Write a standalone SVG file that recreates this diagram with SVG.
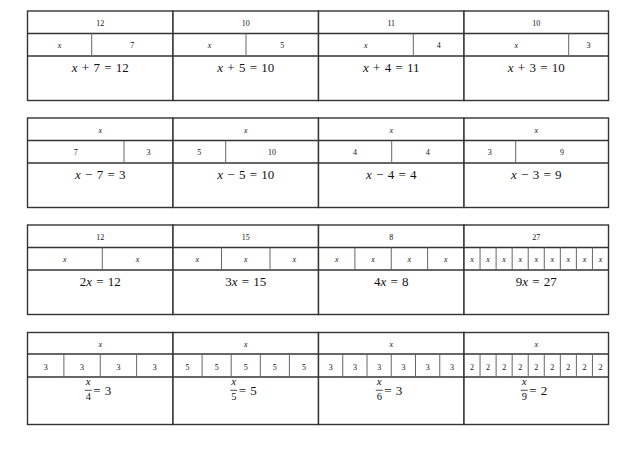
<svg xmlns="http://www.w3.org/2000/svg" width="637" height="450" viewBox="0 0 637 450">
<style>
.box{fill:#fff;stroke:#333;stroke-width:1.4}
.h{stroke:#333;stroke-width:1.4}
.d{stroke:#666;stroke-width:1}
.bar{stroke:#222;stroke-width:0.8}
text{font-family:"Liberation Serif","DejaVu Serif",serif;fill:#111;text-anchor:middle}
.s{font-size:8px}
.eq{font-size:13px;word-spacing:1px}
.v{font-style:italic}
.fr{font-size:11px}
.dn{font-size:10.5px}
.st{text-anchor:start}
</style>
<rect width="637" height="450" fill="#fff"/>

<!-- Table 1 -->
<g id="t1c1">
<rect class="box" x="27.5" y="11" width="145.5" height="89.5"/>
<line class="h" x1="27.5" y1="33.5" x2="173" y2="33.5"/><line class="h" x1="27.5" y1="56" x2="173" y2="56"/>
<line class="d" x1="91.7" y1="33.5" x2="91.7" y2="56"/>
<text class="s" x="100.25" y="25.7">12</text>
<text class="s v" x="59.6" y="47.7">x</text><text class="s" x="132.35" y="47.7">7</text>
<text class="eq" x="100.25" y="72"><tspan class="v">x</tspan> + 7 = 12</text>
</g>
<g id="t1c2">
<rect class="box" x="173" y="11" width="145.5" height="89.5"/>
<line class="h" x1="173" y1="33.5" x2="318.5" y2="33.5"/><line class="h" x1="173" y1="56" x2="318.5" y2="56"/>
<line class="d" x1="246" y1="33.5" x2="246" y2="56"/>
<text class="s" x="245.75" y="25.7">10</text>
<text class="s v" x="209.5" y="47.7">x</text><text class="s" x="282.25" y="47.7">5</text>
<text class="eq" x="245.75" y="72"><tspan class="v">x</tspan> + 5 = 10</text>
</g>
<g id="t1c3">
<rect class="box" x="318.5" y="11" width="145.5" height="89.5"/>
<line class="h" x1="318.5" y1="33.5" x2="464" y2="33.5"/><line class="h" x1="318.5" y1="56" x2="464" y2="56"/>
<line class="d" x1="413.3" y1="33.5" x2="413.3" y2="56"/>
<text class="s" x="391.25" y="25.7">11</text>
<text class="s v" x="365.9" y="47.7">x</text><text class="s" x="438.65" y="47.7">4</text>
<text class="eq" x="391.25" y="72"><tspan class="v">x</tspan> + 4 = 11</text>
</g>
<g id="t1c4">
<rect class="box" x="464" y="11" width="144.5" height="89.5"/>
<line class="h" x1="464" y1="33.5" x2="608.5" y2="33.5"/><line class="h" x1="464" y1="56" x2="608.5" y2="56"/>
<line class="d" x1="568.7" y1="33.5" x2="568.7" y2="56"/>
<text class="s" x="536.25" y="25.7">10</text>
<text class="s v" x="516.35" y="47.7">x</text><text class="s" x="588.6" y="47.7">3</text>
<text class="eq" x="536.25" y="72"><tspan class="v">x</tspan> + 3 = 10</text>
</g>

<!-- Table 2 -->
<g id="t2c1">
<rect class="box" x="27.5" y="118" width="145.5" height="89.5"/>
<line class="h" x1="27.5" y1="140.5" x2="173" y2="140.5"/><line class="h" x1="27.5" y1="163" x2="173" y2="163"/>
<line class="d" x1="124" y1="140.5" x2="124" y2="163"/>
<text class="s v" x="100.25" y="132.7">x</text>
<text class="s" x="75.75" y="154.7">7</text><text class="s" x="148.5" y="154.7">3</text>
<text class="eq" x="100.25" y="179"><tspan class="v">x</tspan> − 7 = 3</text>
</g>
<g id="t2c2">
<rect class="box" x="173" y="118" width="145.5" height="89.5"/>
<line class="h" x1="173" y1="140.5" x2="318.5" y2="140.5"/><line class="h" x1="173" y1="163" x2="318.5" y2="163"/>
<line class="d" x1="225.7" y1="140.5" x2="225.7" y2="163"/>
<text class="s v" x="245.75" y="132.7">x</text>
<text class="s" x="199.35" y="154.7">5</text><text class="s" x="272.1" y="154.7">10</text>
<text class="eq" x="245.75" y="179"><tspan class="v">x</tspan> − 5 = 10</text>
</g>
<g id="t2c3">
<rect class="box" x="318.5" y="118" width="145.5" height="89.5"/>
<line class="h" x1="318.5" y1="140.5" x2="464" y2="140.5"/><line class="h" x1="318.5" y1="163" x2="464" y2="163"/>
<line class="d" x1="391.7" y1="140.5" x2="391.7" y2="163"/>
<text class="s v" x="391.25" y="132.7">x</text>
<text class="s" x="355.1" y="154.7">4</text><text class="s" x="427.85" y="154.7">4</text>
<text class="eq" x="391.25" y="179"><tspan class="v">x</tspan> − 4 = 4</text>
</g>
<g id="t2c4">
<rect class="box" x="464" y="118" width="144.5" height="89.5"/>
<line class="h" x1="464" y1="140.5" x2="608.5" y2="140.5"/><line class="h" x1="464" y1="163" x2="608.5" y2="163"/>
<line class="d" x1="515.7" y1="140.5" x2="515.7" y2="163"/>
<text class="s v" x="536.25" y="132.7">x</text>
<text class="s" x="489.85" y="154.7">3</text><text class="s" x="562.1" y="154.7">9</text>
<text class="eq" x="536.25" y="179"><tspan class="v">x</tspan> − 3 = 9</text>
</g>

<!-- Table 3 -->
<g id="t3c1">
<rect class="box" x="27.5" y="225" width="145.5" height="89.5"/>
<line class="h" x1="27.5" y1="247.5" x2="173" y2="247.5"/><line class="h" x1="27.5" y1="270" x2="173" y2="270"/>
<line class="d" x1="102.3" y1="247.5" x2="102.3" y2="270"/>
<text class="s" x="100.25" y="239.7">12</text>
<text class="s v" x="64.9" y="261.7">x</text><text class="s v" x="137.65" y="261.7">x</text>
<text class="eq" x="100.25" y="286">2<tspan class="v">x</tspan> = 12</text>
</g>
<g id="t3c2">
<rect class="box" x="173" y="225" width="145.5" height="89.5"/>
<line class="h" x1="173" y1="247.5" x2="318.5" y2="247.5"/><line class="h" x1="173" y1="270" x2="318.5" y2="270"/>
<line class="d" x1="221.5" y1="247.5" x2="221.5" y2="270"/><line class="d" x1="270" y1="247.5" x2="270" y2="270"/>
<text class="s" x="245.75" y="239.7">15</text>
<text class="s v" x="197.25" y="261.7">x</text><text class="s v" x="245.75" y="261.7">x</text><text class="s v" x="294.25" y="261.7">x</text>
<text class="eq" x="245.75" y="286">3<tspan class="v">x</tspan> = 15</text>
</g>
<g id="t3c3">
<rect class="box" x="318.5" y="225" width="145.5" height="89.5"/>
<line class="h" x1="318.5" y1="247.5" x2="464" y2="247.5"/><line class="h" x1="318.5" y1="270" x2="464" y2="270"/>
<line class="d" x1="354.9" y1="247.5" x2="354.9" y2="270"/><line class="d" x1="391.25" y1="247.5" x2="391.25" y2="270"/><line class="d" x1="427.6" y1="247.5" x2="427.6" y2="270"/>
<text class="s" x="391.25" y="239.7">8</text>
<text class="s v" x="336.7" y="261.7">x</text><text class="s v" x="373.1" y="261.7">x</text><text class="s v" x="409.4" y="261.7">x</text><text class="s v" x="445.8" y="261.7">x</text>
<text class="eq" x="391.25" y="286">4<tspan class="v">x</tspan> = 8</text>
</g>
<g id="t3c4">
<rect class="box" x="464" y="225" width="144.5" height="89.5"/>
<line class="h" x1="464" y1="247.5" x2="608.5" y2="247.5"/><line class="h" x1="464" y1="270" x2="608.5" y2="270"/>
<path class="d" d="M480.06 247.5V270M496.11 247.5V270M512.17 247.5V270M528.22 247.5V270M544.28 247.5V270M560.33 247.5V270M576.39 247.5V270M592.44 247.5V270"/>
<text class="s" x="536.25" y="239.7">27</text>
<text class="s v" x="472.03" y="261.7">x</text><text class="s v" x="488.08" y="261.7">x</text><text class="s v" x="504.14" y="261.7">x</text><text class="s v" x="520.19" y="261.7">x</text><text class="s v" x="536.25" y="261.7">x</text><text class="s v" x="552.31" y="261.7">x</text><text class="s v" x="568.36" y="261.7">x</text><text class="s v" x="584.42" y="261.7">x</text><text class="s v" x="600.47" y="261.7">x</text>
<text class="eq" x="536.25" y="286">9<tspan class="v">x</tspan> = 27</text>
</g>

<!-- Table 4 -->
<g id="t4c1">
<rect class="box" x="27.5" y="332.5" width="145.5" height="92"/>
<line class="h" x1="27.5" y1="354" x2="173" y2="354"/><line class="h" x1="27.5" y1="377" x2="173" y2="377"/>
<path class="d" d="M63.875 354V377M100.25 354V377M136.625 354V377"/>
<text class="s v" x="100.25" y="346.5">x</text>
<text class="s" x="45.69" y="369.5">3</text><text class="s" x="82.06" y="369.5">3</text><text class="s" x="118.44" y="369.5">3</text><text class="s" x="154.81" y="369.5">3</text>
<text class="fr v" x="88.25" y="385">x</text><line class="bar" x1="84.75" y1="390.3" x2="91.75" y2="390.3"/><text class="dn" x="88.25" y="399.5">4</text>
<text class="eq st" x="93.25" y="395">= 3</text>
</g>
<g id="t4c2">
<rect class="box" x="173" y="332.5" width="145.5" height="92"/>
<line class="h" x1="173" y1="354" x2="318.5" y2="354"/><line class="h" x1="173" y1="377" x2="318.5" y2="377"/>
<path class="d" d="M202.1 354V377M231.2 354V377M260.3 354V377M289.4 354V377"/>
<text class="s v" x="245.75" y="346.5">x</text>
<text class="s" x="187.55" y="369.5">5</text><text class="s" x="216.65" y="369.5">5</text><text class="s" x="245.75" y="369.5">5</text><text class="s" x="274.85" y="369.5">5</text><text class="s" x="303.95" y="369.5">5</text>
<text class="fr v" x="233.75" y="385">x</text><line class="bar" x1="230.25" y1="390.3" x2="237.25" y2="390.3"/><text class="dn" x="233.75" y="399.5">5</text>
<text class="eq st" x="238.75" y="395">= 5</text>
</g>
<g id="t4c3">
<rect class="box" x="318.5" y="332.5" width="145.5" height="92"/>
<line class="h" x1="318.5" y1="354" x2="464" y2="354"/><line class="h" x1="318.5" y1="377" x2="464" y2="377"/>
<path class="d" d="M342.75 354V377M367 354V377M391.25 354V377M415.5 354V377M439.75 354V377"/>
<text class="s v" x="391.25" y="346.5">x</text>
<text class="s" x="330.63" y="369.5">3</text><text class="s" x="354.88" y="369.5">3</text><text class="s" x="379.13" y="369.5">3</text><text class="s" x="403.38" y="369.5">3</text><text class="s" x="427.63" y="369.5">3</text><text class="s" x="451.88" y="369.5">3</text>
<text class="fr v" x="379.25" y="385">x</text><line class="bar" x1="375.75" y1="390.3" x2="382.75" y2="390.3"/><text class="dn" x="379.25" y="399.5">6</text>
<text class="eq st" x="384.25" y="395">= 3</text>
</g>
<g id="t4c4">
<rect class="box" x="464" y="332.5" width="144.5" height="92"/>
<line class="h" x1="464" y1="354" x2="608.5" y2="354"/><line class="h" x1="464" y1="377" x2="608.5" y2="377"/>
<path class="d" d="M480.06 354V377M496.11 354V377M512.17 354V377M528.22 354V377M544.28 354V377M560.33 354V377M576.39 354V377M592.44 354V377"/>
<text class="s v" x="536.25" y="346.5">x</text>
<text class="s" x="472.03" y="369.5">2</text><text class="s" x="488.08" y="369.5">2</text><text class="s" x="504.14" y="369.5">2</text><text class="s" x="520.19" y="369.5">2</text><text class="s" x="536.25" y="369.5">2</text><text class="s" x="552.31" y="369.5">2</text><text class="s" x="568.36" y="369.5">2</text><text class="s" x="584.42" y="369.5">2</text><text class="s" x="600.47" y="369.5">2</text>
<text class="fr v" x="524.25" y="385">x</text><line class="bar" x1="520.75" y1="390.3" x2="527.75" y2="390.3"/><text class="dn" x="524.25" y="399.5">9</text>
<text class="eq st" x="529.25" y="395">= 2</text>
</g>
<g id="connectors"/>
</svg>
